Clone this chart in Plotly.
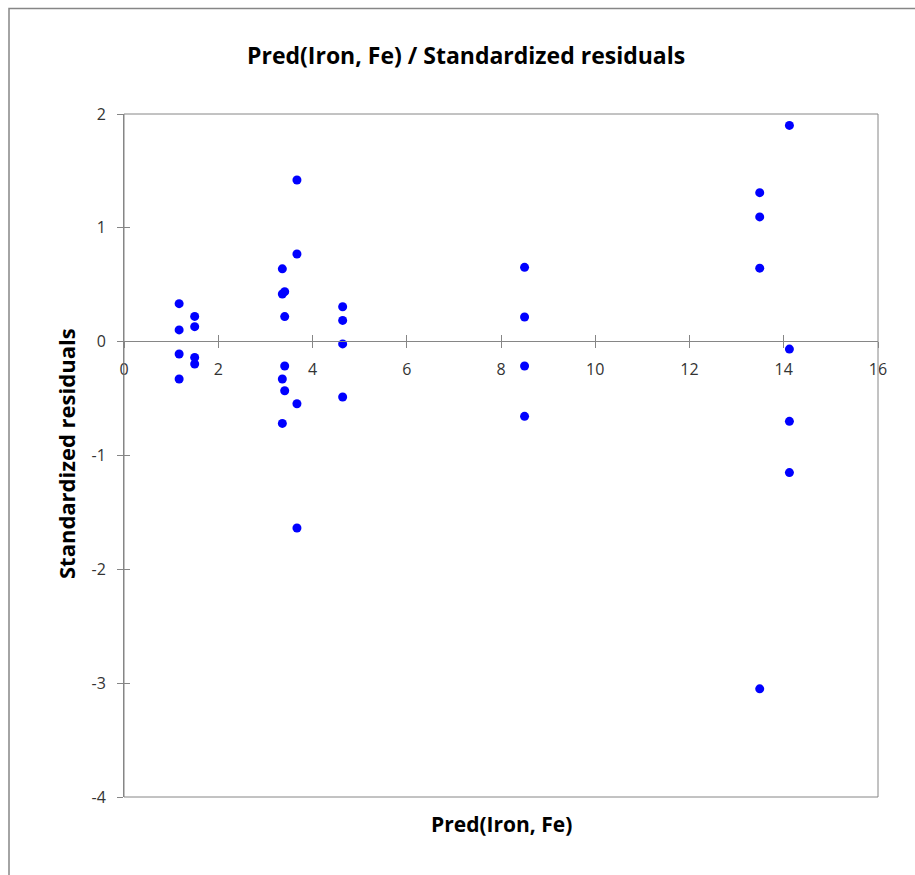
import plotly.graph_objects as go

# Data
pred_fe = [1.17, 1.17, 1.17, 1.17,
           1.50, 1.50, 1.50, 1.50,
           3.36, 3.36, 3.36, 3.36,
           3.41, 3.41, 3.41, 3.41,
           3.67, 3.67, 3.67, 3.67,
           4.64, 4.64, 4.64, 4.64,
           8.50, 8.50, 8.50, 8.50,
           13.49, 13.49, 13.49, 13.49,
           14.12, 14.12, 14.12, 14.12]
std_resid = [0.334, 0.103, -0.108, -0.328,
             0.222, 0.132, -0.138, -0.196,
             0.64, 0.419, -0.328, -0.718,
             0.439, 0.22, -0.214, -0.431,
             1.42, 0.77, -0.545, -1.637,
             0.307, 0.187, -0.02, -0.486,
             0.653, 0.217, -0.214, -0.656,
             1.309, 1.096, 0.646, -3.05,
             1.90, -0.065, -0.70, -1.15]

x_ticks = [0, 2, 4, 6, 8, 10, 12, 14, 16]
y_ticks = [2, 1, 0, -1, -2, -3, -4]
y_tick_text = ["2", "1", "0", "-1", "-2", "-3", "-4"]

title_text = "Pred(Iron, Fe) / Standardized residuals"
x_title = "Pred(Iron, Fe)"
y_title = "Standardized residuals"

W, H = 915, 875
L, R, T, B = 124, 878, 114, 797
pw, ph = R - L, B - T
def px(x):
    return (x - L) / pw
def py(y):
    return (B - y) / ph

y0_pos = py(341)
grey = "#868686"
tick_font = dict(family="'Open Sans', sans-serif", size=16, color="#333333")
title_family = "'Open Sans', sans-serif"

fig = go.Figure()
fig.add_trace(go.Scatter(x=pred_fe, y=std_resid, mode="markers",
                         marker=dict(color="#0000FF", size=9, line=dict(width=0)),
                         showlegend=False))
fig.add_trace(go.Scatter(x=[None], y=[None], xaxis="x2", yaxis="y2",
                         showlegend=False, hoverinfo="skip"))

fig.update_layout(
    width=W, height=H,
    margin=dict(l=L, r=W - R, t=T, b=H - B),
    paper_bgcolor="white", plot_bgcolor="white",
    xaxis=dict(range=[0, 16], tickvals=x_ticks, showgrid=False, zeroline=False,
               anchor="free", position=y0_pos, showline=True, linecolor=grey,
               linewidth=1, ticks="outside", ticklen=6, tickcolor=grey,
               tickfont=tick_font, ticklabelstandoff=8),
    yaxis=dict(range=[-4, 2], tickvals=y_ticks, ticktext=y_tick_text,
               showgrid=False, zeroline=False, showline=True, linecolor=grey,
               linewidth=1, ticks="outside", ticklen=6, tickcolor=grey,
               tickfont=tick_font, ticklabelstandoff=8),
    xaxis2=dict(range=[0, 16], tickvals=x_ticks, overlaying="x", anchor="free",
                position=y0_pos, showgrid=False, zeroline=False, showline=False,
                ticks="inside", ticklen=6, tickcolor=grey, showticklabels=False),
    yaxis2=dict(range=[-4, 2], tickvals=y_ticks, overlaying="y", anchor="x",
                showgrid=False, zeroline=False, showline=False,
                ticks="inside", ticklen=6, tickcolor=grey, showticklabels=False),
    shapes=[
        dict(type="rect", xref="paper", yref="paper", x0=0, x1=1, y0=0, y1=1,
             line=dict(color=grey, width=1), layer="above"),
        dict(type="rect", xref="paper", yref="paper", x0=px(9), x1=px(925),
             y0=py(885), y1=py(8.5), line=dict(color=grey, width=1.5)),
    ],
    annotations=[
        dict(text=title_text, xref="paper", yref="paper", x=px(466), y=py(55),
             xanchor="center", yanchor="middle", showarrow=False,
             font=dict(family=title_family, size=23,
                       color="#000000", weight="bold")),
        dict(text=x_title, xref="paper", yref="paper", x=px(501), y=py(824),
             xanchor="center", yanchor="middle", showarrow=False,
             font=dict(family=title_family, size=21,
                       color="#000000", weight="bold")),
        dict(text=y_title, xref="paper", yref="paper", x=px(66), y=py(454),
             xanchor="center", yanchor="middle", showarrow=False, textangle=-90,
             font=dict(family=title_family, size=22,
                       color="#000000", weight="bold")),
    ],
)

fig.write_html("out.html")
